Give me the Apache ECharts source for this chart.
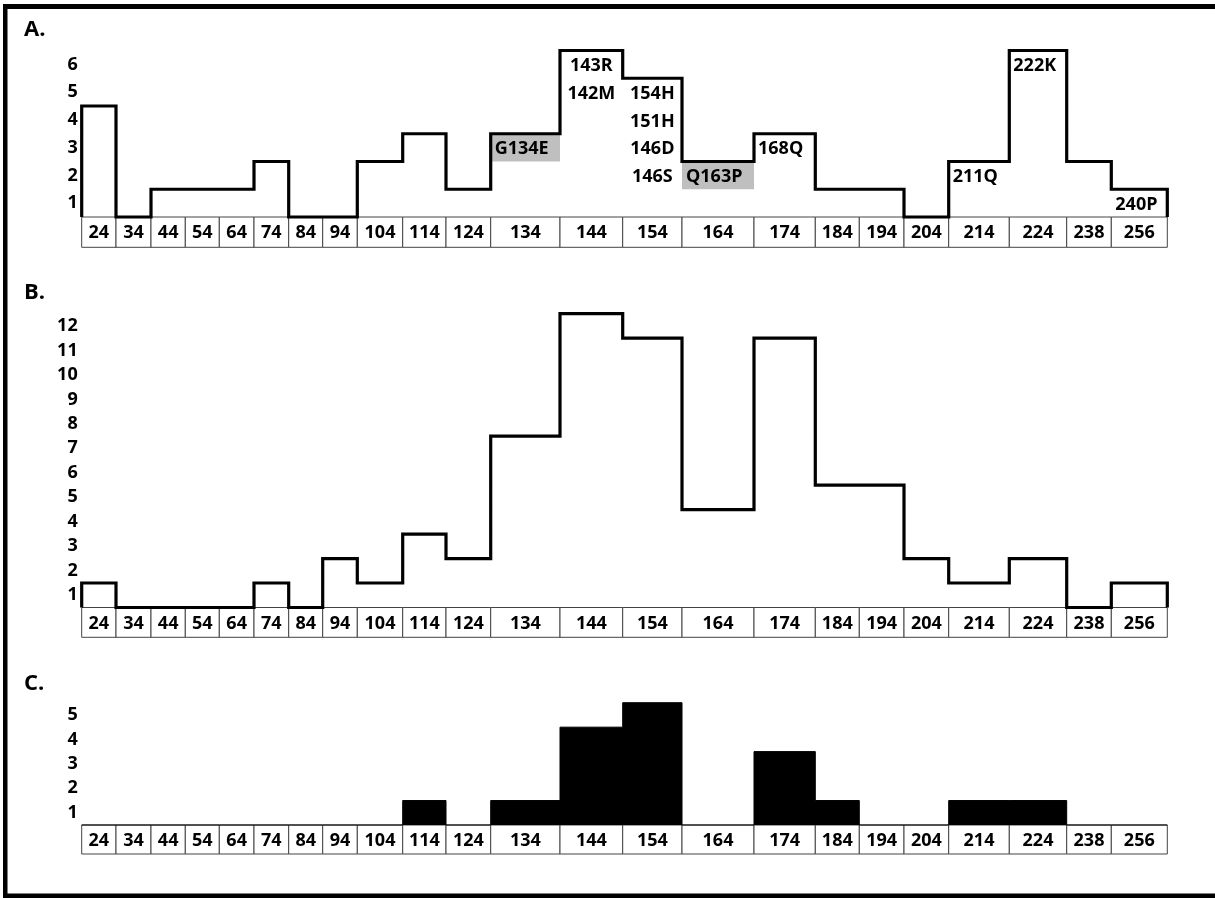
<!DOCTYPE html>
<html><head><meta charset="utf-8">
<script src="https://cdn.jsdelivr.net/npm/echarts@6/dist/echarts.min.js"></script>
<style>html,body{margin:0;padding:0;background:#fff}#chart{width:1215px;height:898px}</style>
</head><body><div id="chart"></div>
<script>
// ---------------- data ----------------
const categories = ['24','34','44','54','64','74','84','94','104','114','124','134','144','154','164','174','184','194','204','214','224','238','256'];
const valuesA = [4,0,1,1,1,2,0,0,2,3,1,3,6,5,2,3,1,1,0,2,6,2,1];
const valuesB = [1,0,0,0,0,1,0,2,1,3,2,7,12,11,4,11,5,5,2,1,2,0,1];
const valuesC = [0,0,0,0,0,0,0,0,0,1,0,1,4,5,0,3,1,0,0,1,1,0,0];
const yTicksA = ['1','2','3','4','5','6'];
const yTicksB = ['1','2','3','4','5','6','7','8','9','10','11','12'];
const yTicksC = ['1','2','3','4','5'];
const panelTitles = ['A.','B.','C.'];
// annotations of panel A (text, category column, count band, highlighted)
const annotationText      = ['143R','142M','154H','151H','146D','146S','G134E','Q163P','168Q','211Q','222K','240P'];
const annotationCategory  = ['144','144','154','154','154','154','134','164','174','214','224','256'];
const annotationRow       = [6,5,5,4,3,2,3,2,3,2,6,1];
const annotationHighlight = [false,false,false,false,false,false,true,true,false,false,false,false];

// ---------------- layout / style ----------------
const colWidths = [34.3,35,34.3,34,34.7,34.7,34,34.6,45.4,43.3,44.7,69.3,62.7,59.3,72,61.3,44,44.7,44.7,60.6,57.4,44.6,56];
const edges = [0];
colWidths.forEach(w => edges.push(edges[edges.length-1] + w));
const totalW = edges[edges.length-1];
const FONT = '"Open Sans", Lato, sans-serif';
const TXT = 'bold 18px ' + FONT;
const centeredCols = ['144','154'];
const GRID_LEFT = 81.7;

const panels = [
  {title: panelTitles[0], values: valuesA, ticks: yTicksA, top: 50.5, height: 166.5, strip: 30.3, titleY: 34, filled: false, notes: true},
  {title: panelTitles[1], values: valuesB, ticks: yTicksB, top: 313.7, height: 293.8, strip: 29.8, titleY: 296.7, filled: false, notes: false},
  {title: panelTitles[2], values: valuesC, ticks: yTicksC, top: 702.7, height: 122.3, strip: 29, titleY: 687.5, filled: true, notes: false}
];

const grid = [], xAxis = [], yAxis = [], series = [], graphic = [];

panels.forEach((p, i) => {
  grid.push({left: GRID_LEFT, top: p.top, width: totalW, height: p.height, outerBoundsMode: 'none', containLabel: false});
  xAxis.push({type: 'value', gridIndex: i, min: 0, max: totalW, show: false});
  yAxis.push({type: 'value', gridIndex: i, min: 0, max: p.ticks.length, show: false});
  yAxis.push({type: 'category', gridIndex: i, data: p.ticks, boundaryGap: true, position: 'left',
    axisLine: {show: false}, axisTick: {show: false}, splitLine: {show: false},
    axisLabel: {fontSize: 18, fontWeight: 'bold', fontFamily: FONT, color: '#000', margin: 4}});

  // category strip under the baseline
  series.push({
    type: 'custom', xAxisIndex: i, yAxisIndex: 2*i, clip: false, z: 1, silent: true,
    data: categories.map((c, j) => [j, 0]),
    renderItem: (params, api) => {
      const j = api.value(0);
      const p0 = api.coord([edges[j], 0]);
      const p1 = api.coord([edges[j+1], 0]);
      return {type: 'group', children: [
        {type: 'rect', shape: {x: p0[0], y: p0[1], width: p1[0]-p0[0], height: p.strip},
          style: {fill: '#fff', stroke: '#444', lineWidth: 1}},
        {type: 'text', style: {text: categories[j], x: (p0[0]+p1[0])/2, y: p0[1] + p.strip/2 + 1,
          align: 'center', verticalAlign: 'middle', font: TXT, fill: '#000'}}
      ]};
    }
  });

  if (p.notes) {
    series.push({
      type: 'custom', xAxisIndex: i, yAxisIndex: 2*i, clip: false, z: 2, silent: true,
      data: annotationText.map((t, k) => [categories.indexOf(annotationCategory[k]), annotationRow[k], k]),
      renderItem: (params, api) => {
        const j = api.value(0), row = api.value(1), k = api.value(2);
        const tl = api.coord([edges[j], row]);
        const br = api.coord([edges[j+1], row - 1]);
        const children = [];
        if (annotationHighlight[k]) {
          children.push({type: 'rect', shape: {x: tl[0], y: tl[1], width: br[0]-tl[0], height: br[1]-tl[1]},
            style: {fill: '#bfbfbf'}});
        }
        const centered = centeredCols.indexOf(annotationCategory[k]) >= 0;
        children.push({type: 'text', style: {
          text: annotationText[k],
          x: centered ? (tl[0]+br[0])/2 : tl[0] + 4,
          y: (tl[1]+br[1])/2 + 1.5,
          align: centered ? 'center' : 'left', verticalAlign: 'middle',
          font: TXT, fill: '#000'}});
        return {type: 'group', children};
      }
    });
  }

  // stepped outline built from the bins
  const pts = [[edges[0], 0]];
  p.values.forEach((v, j) => pts.push([edges[j], v]));
  pts.push([edges[p.values.length], p.values[p.values.length-1]]);
  pts.push([edges[p.values.length], 0]);
  series.push({
    type: 'line', xAxisIndex: i, yAxisIndex: 2*i, step: 'end', data: pts, symbol: 'none',
    clip: false, z: 3, silent: true,
    lineStyle: {color: '#000', width: p.filled ? 1 : 3.2, join: 'miter'},
    areaStyle: p.filled ? {color: '#000', opacity: 1} : undefined
  });

  graphic.push({type: 'text', left: 24, top: p.titleY - 15, style: {text: p.title, font: 'bold 22px ' + FONT, fill: '#000'}});
});

// outer frame
graphic.push({type: 'rect', shape: {x: 3, y: 4, width: 1212, height: 5}, style: {fill: '#000'}});
graphic.push({type: 'rect', shape: {x: 3, y: 4, width: 4.5, height: 894}, style: {fill: '#000'}});
graphic.push({type: 'rect', shape: {x: 3, y: 893.5, width: 1212, height: 4.5}, style: {fill: '#000'}});

const chart = echarts.init(document.getElementById('chart'), null, {renderer: 'canvas'});
chart.setOption({animation: false, backgroundColor: '#fff', grid, xAxis, yAxis, series, graphic});
</script></body></html>
